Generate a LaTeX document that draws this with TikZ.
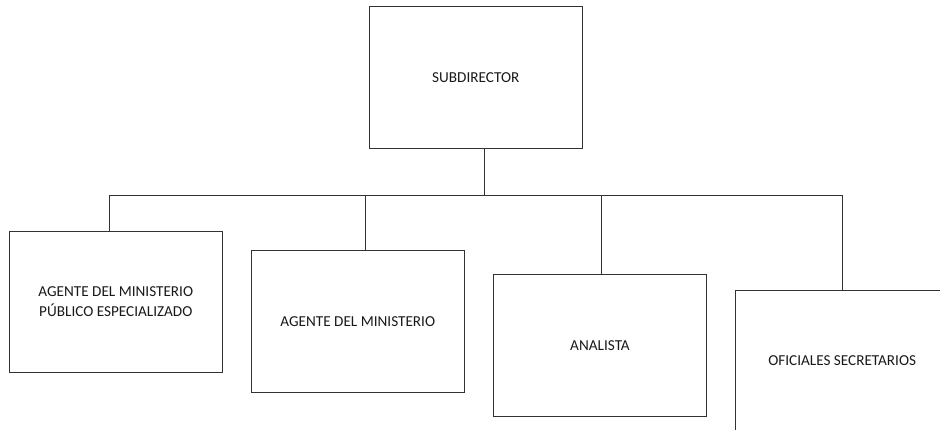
\documentclass[tikz,border=0pt]{standalone}
\usepackage{fontspec}
\setmainfont{Carlito}
\begin{document}
\begin{tikzpicture}[x=1pt,y=-1pt,
  orgbox/.style={draw=black!80, line width=0.9pt, minimum width=213pt, minimum height=141.5pt, inner sep=0pt, align=center, font=\fontsize{15.2}{19.4}\selectfont, text=black!90},
  link/.style={draw=black!80, line width=0.9pt}]
\useasboundingbox (0,0) rectangle (940,429);
\clip (0,0) rectangle (940,429);
\node[orgbox] (sub) at (475.8,77.3) {SUBDIRECTOR};
\node[orgbox] (a1) at (115.8,301.8) {AGENTE DEL MINISTERIO\\PÚBLICO ESPECIALIZADO};
\node[orgbox] (a2) at (357.8,321.3) {AGENTE DEL MINISTERIO};
\node[orgbox] (a3) at (600,345.2) {ANALISTA};
\node[orgbox] (a4) at (842.2,361) {OFICIALES SECRETARIOS};
\coordinate (bus) at (484,195.5);
\coordinate (busl) at (109.7,195.5);
\coordinate (busr) at (842,195.5);
\draw[link] (sub.south -| bus) -- (bus);
\draw[link] (a1.north -| busl) -- (busl) -- (busr) -- (a4.north -| busr);
\draw[link] (a2.north -| 365.7,0) -- (365.7,195.5);
\draw[link] (a3.north -| 601.7,0) -- (601.7,195.5);
\end{tikzpicture}
\end{document}
